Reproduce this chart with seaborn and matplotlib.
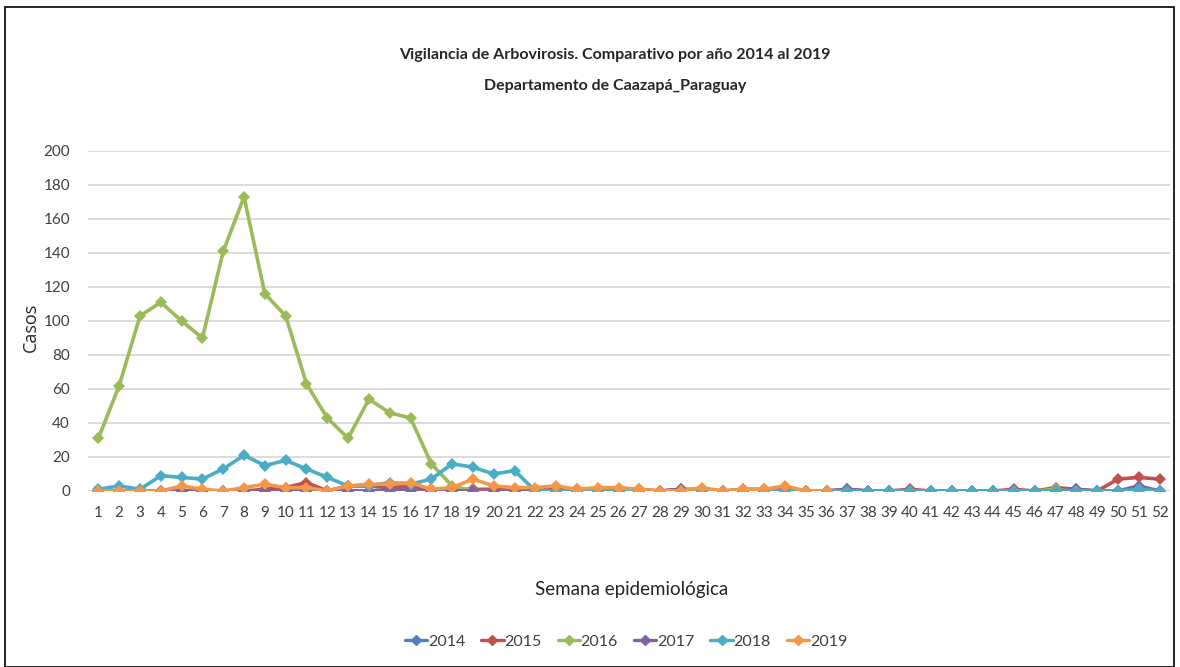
import numpy as np
import pandas as pd
import matplotlib
matplotlib.use("Agg")
import matplotlib.pyplot as plt
from matplotlib.lines import Line2D
import seaborn as sns

weeks = list(range(1, 53))
years = ["2014", "2015", "2016", "2017", "2018", "2019"]

v2014 = [0] * 52
v2015 = [0, 0, 0, 0, 0, 0, 0, 0, 1, 2, 5, 0, 3, 3, 2, 3, 1, 1, 1, 1, 1, 1, 1, 1, 1, 1, 1, 0,
         1, 1, 0, 1, 1, 1, 0, 0, 1, 0, 0, 1, 0, 0, 0, 0, 1, 0, 2, 1, 0, 7, 8, 7]
v2016 = [31, 62, 103, 111, 100, 90, 141, 173, 116, 103, 63, 43, 31, 54, 46, 43, 16, 3,
         0, 0, 0, 0, 0, 0, 0, 0, 0, 0, 0, 0, 0, 0, 0, 0, 0, 0, 0, 0, 0, 0, 0, 0, 0, 0, 0, 0,
         1, 0, 0, 0, 0, 0]
v2017 = [0, 0, 0, 0, 0, 0, 0, 0, 0, 0, 0, 0, 0, 0, 1, 1, 0, 0, 0, 0, 0, 0, 0, 0, 0, 0, 0, 0,
         1, 0, 0, 0, 0, 0, 0, 0, 1, 0, 0, 0, 0, 0, 0, 0, 0, 0, 0, 1, 0, 0, 3, 0]
v2018 = [1, 3, 1, 9, 8, 7, 13, 21, 15, 18, 13, 8, 3, 3, 5, 4, 7, 16, 14, 10, 12, 0,
         0, 0, 0, 0, 0, 0, 0, 0, 0, 0, 0, 0, 0, 0, 0, 0, 0, 0, 0, 0, 0, 0, 0, 0, 0, 0, 0, 0,
         1, 0]
v2019 = [0, 0, 0, 0, 3, 1, 0, 2, 4, 2, 2, 0, 3, 4, 4, 5, 1, 2, 7, 3, 2, 2, 3, 1, 2, 2, 1, 0,
         0, 2, 0, 1, 1, 3, 0, 0] + [np.nan] * 16

colors = ["#4F81BD", "#C0504D", "#9BBB59", "#8064A2", "#4BACC6", "#F79646"]

title1 = "Vigilancia de Arbovirosis. Comparativo por año 2014 al 2019"
title2 = "Departamento de Caazapá_Paraguay"
xlabel = "Semana epidemiológica"
ylabel = "Casos"

series = [v2014, v2015, v2016, v2017, v2018, v2019]
df = pd.concat(
    [pd.DataFrame({"Semana": weeks, "Casos": vals, "Año": y}) for y, vals in zip(years, series)],
    ignore_index=True,
)

sns.set_theme(style="white")
plt.rcParams["font.family"] = ["Lato", "DejaVu Sans"]

W, H = 1180, 667
fig = plt.figure(figsize=(W / 100, H / 100), dpi=100)
left, right = 88, 1170
bottom, top = 491, 151
ax = fig.add_axes([left / W, 1 - bottom / H, (right - left) / W, (bottom - top) / H])

sns.lineplot(data=df, x="Semana", y="Casos", hue="Año", palette=colors, ax=ax,
             marker="D", markersize=6.5, markeredgewidth=0, linewidth=2.6,
             dashes=False, legend=False, estimator=None, sort=False)

ax.set_xlim(0.5, 52.5)
ax.set_ylim(0, 200)
ax.set_yticks(range(0, 201, 20))
ax.set_xticks(weeks)
ax.set_xticklabels([str(w) for w in weeks])
ax.yaxis.grid(True, color="#d9d9d9", linewidth=1.3)
ax.set_axisbelow(True)
for s in ["top", "right", "left", "bottom"]:
    ax.spines[s].set_visible(False)
ax.axhline(0, color="#d9d9d9", linewidth=1.3, zorder=0)
ax.tick_params(axis="both", length=0, labelsize=11, colors="#404040")
ax.tick_params(axis="x", pad=11)
ax.tick_params(axis="y", pad=13)
ax.set_xlabel("")
ax.set_ylabel("")

fig.text(31 / W, 1 - 327 / H, ylabel, rotation=90, ha="center", va="center",
         fontsize=13, color="#262626", family=["Open Sans", "DejaVu Sans"])
fig.text(632 / W, 1 - 590 / H, xlabel, ha="center", va="center",
         fontsize=13.5, color="#262626")
fig.text(615 / W, 1 - 55 / H, title1, ha="center", va="center",
         fontsize=11.5, fontweight="bold", color="#262626")
fig.text(615 / W, 1 - 86 / H, title2, ha="center", va="center",
         fontsize=11.5, fontweight="bold", color="#262626")

handles = [Line2D([], [], color=c, marker="D", markersize=5, linewidth=2.4) for c in colors]
fig.legend(handles, years, loc="center", bbox_to_anchor=(626 / W, 1 - 642 / H), ncol=6,
           frameon=False, fontsize=11.5, handlelength=1.4, handletextpad=0.05,
           columnspacing=1.0, labelcolor="#404040")

frame = plt.Rectangle((5 / W, 0), (1174 - 5) / W, 1 - 7 / H, transform=fig.transFigure,
                      fill=False, edgecolor="black", linewidth=1.2)
fig.add_artist(frame)

fig.savefig("out.png", dpi=100)
